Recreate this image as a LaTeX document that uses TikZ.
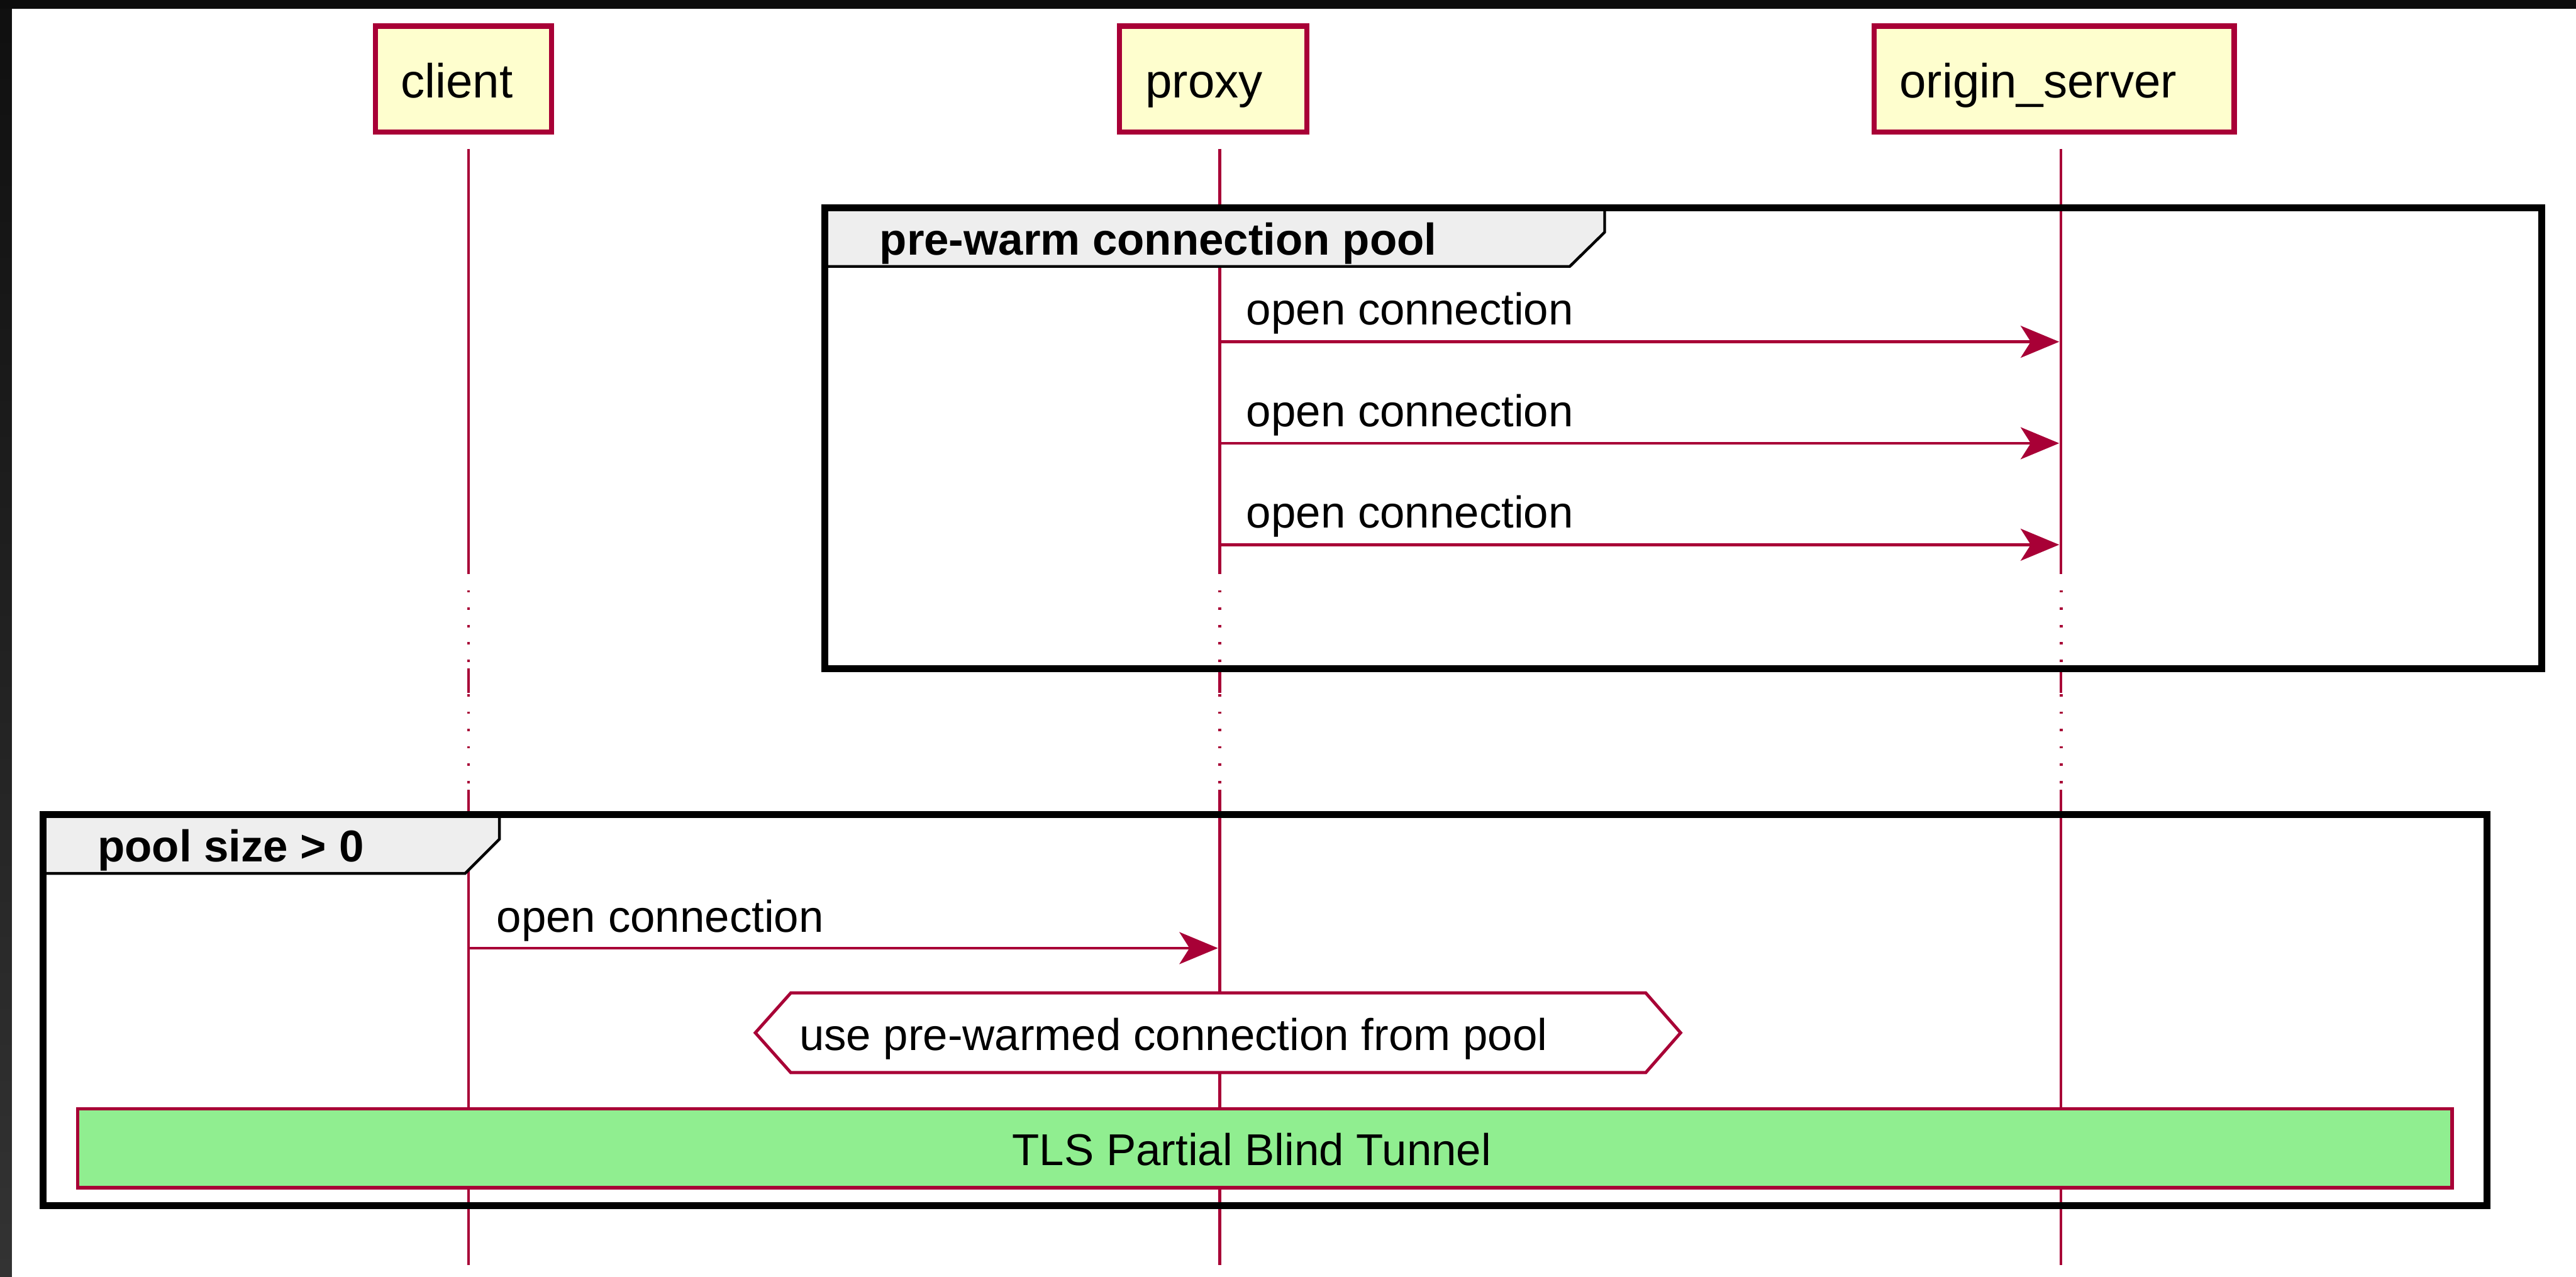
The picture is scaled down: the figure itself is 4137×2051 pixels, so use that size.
\documentclass[tikz,border=0pt]{standalone}
\usepackage{fontspec}
\setmainfont{Liberation Sans}
\usetikzlibrary{arrows.meta}

\definecolor{umlred}{HTML}{A80036}
\definecolor{umlyellow}{HTML}{FEFECE}
\definecolor{tabgray}{HTML}{EEEEEE}
\definecolor{tunnelgreen}{HTML}{90EE90}

\tikzset{
  partbox/.style={draw=umlred, fill=umlyellow, line width=2.36pt},
  partlabel/.style={anchor=base west, inner sep=0pt, font=\fontsize{21.9pt}{26pt}\selectfont},
  lifeline/.style={umlred, line width=1.28pt},
  lifedots/.style={lifeline, line width=1.4pt, dash pattern=on 1.1pt off 6.81pt},
  msgarrow/.style={umlred, line width=1.34pt, -{Stealth[length=17.6pt, width=14.6pt, inset=4.6pt]}},
  msglabel/.style={anchor=base west, inner sep=0pt, font=\fontsize{20.35pt}{24pt}\selectfont},
  framebox/.style={draw=black, line width=3.13pt},
  frametab/.style={draw=black, fill=tabgray, line width=1.28pt},
  framelabel/.style={msglabel, font=\fontsize{20.35pt}{24pt}\selectfont\bfseries},
  notebox/.style={draw=umlred, fill=white, line width=1.42pt},
  tunnelbox/.style={draw=umlred, fill=tunnelgreen, line width=1.56pt},
}

\begin{document}
\begin{tikzpicture}[x=0.01cm, y=-0.01cm]
    \useasboundingbox (0,0) rectangle (4137,2051);

    % Window edges
    \fill[white] (0,0) rectangle (4137,2051);
    \shade[top color=black!94, bottom color=black!80] (0,0) rectangle (19,2051);
    \fill[black!95] (0,0) rectangle (4137,14);

    % Participants
    \draw[partbox] (603,42) rectangle (886,212);
    \node[partlabel] (client) at (643,157) {client};
    \draw[partbox] (1798,42) rectangle (2099,212);
    \node[partlabel] (proxy) at (1839,157) {proxy};
    \draw[partbox] (3010,42) rectangle (3588,212);
    \node[partlabel] (origin) at (3050,157) {origin\_server};

    % Lifelines, dotted where time passes
    \foreach \p/\x in {client/752.5, proxy/1959, origin/3310}{
        \coordinate (\p-top) at (\x,239);
        \coordinate (\p-bot) at (\x,2032);
        \draw[lifeline] (\p-top) -- (\x,922);
        \draw[lifedots] (\x,948) -- (\x,1074);
        \draw[lifeline] (\x,1074) -- (\x,1113);
        \draw[lifedots] (\x,1115) -- (\x,1269);
        \draw[lifeline] (\x,1269) -- (\p-bot);
    }

    % Frame: pre-warm connection pool
    \draw[frametab] (1325,334) -- (2577,334) -- (2577,373) -- (2521,428) -- (1325,428) -- cycle;
    \draw[framebox] (1325,334) rectangle (4082,1074);
    \node[framelabel] (prewarm) at (1412,410) {pre-warm connection pool};

    % proxy opens the pool connections
    \foreach \y [count=\i] in {549,712,875}{
        \coordinate (open\i-from) at (1959,\y);
        \coordinate (open\i-to) at (3307,\y);
        \draw[msgarrow] (open\i-from) -- (open\i-to);
        \node[msglabel] (open\i-lbl) at (2001,\y-27) {open connection};
    }

    % Frame: pool size > 0
    \draw[frametab] (69,1308) -- (802,1308) -- (802,1348) -- (747,1403) -- (69,1403) -- cycle;
    \draw[framebox] (69,1308) rectangle (3994,1937);
    \node[framelabel] (poolsize) at (156,1384) {pool size > 0};

    % client -> proxy
    \coordinate (conn-from) at (752.5,1523);
    \coordinate (conn-to) at (1956,1523);
    \draw[msgarrow] (conn-from) -- (conn-to);
    \node[msglabel] (conn-lbl) at (797,1497) {open connection};

    % Hexagon note over proxy
    \draw[notebox] (1213,1659) -- (1270,1595) -- (2643,1595) -- (2699,1659) -- (2643,1723) -- (1270,1723) -- cycle;
    \node[msglabel] (pool-note) at (1283,1687) {use pre-warmed connection from pool};

    % Tunnel bar across all participants
    \draw[tunnelbox] (125,1781) rectangle (3938,1908);
    \node[msglabel] (tunnel) at (1625,1872) {TLS Partial Blind Tunnel};
\end{tikzpicture}
\end{document}
